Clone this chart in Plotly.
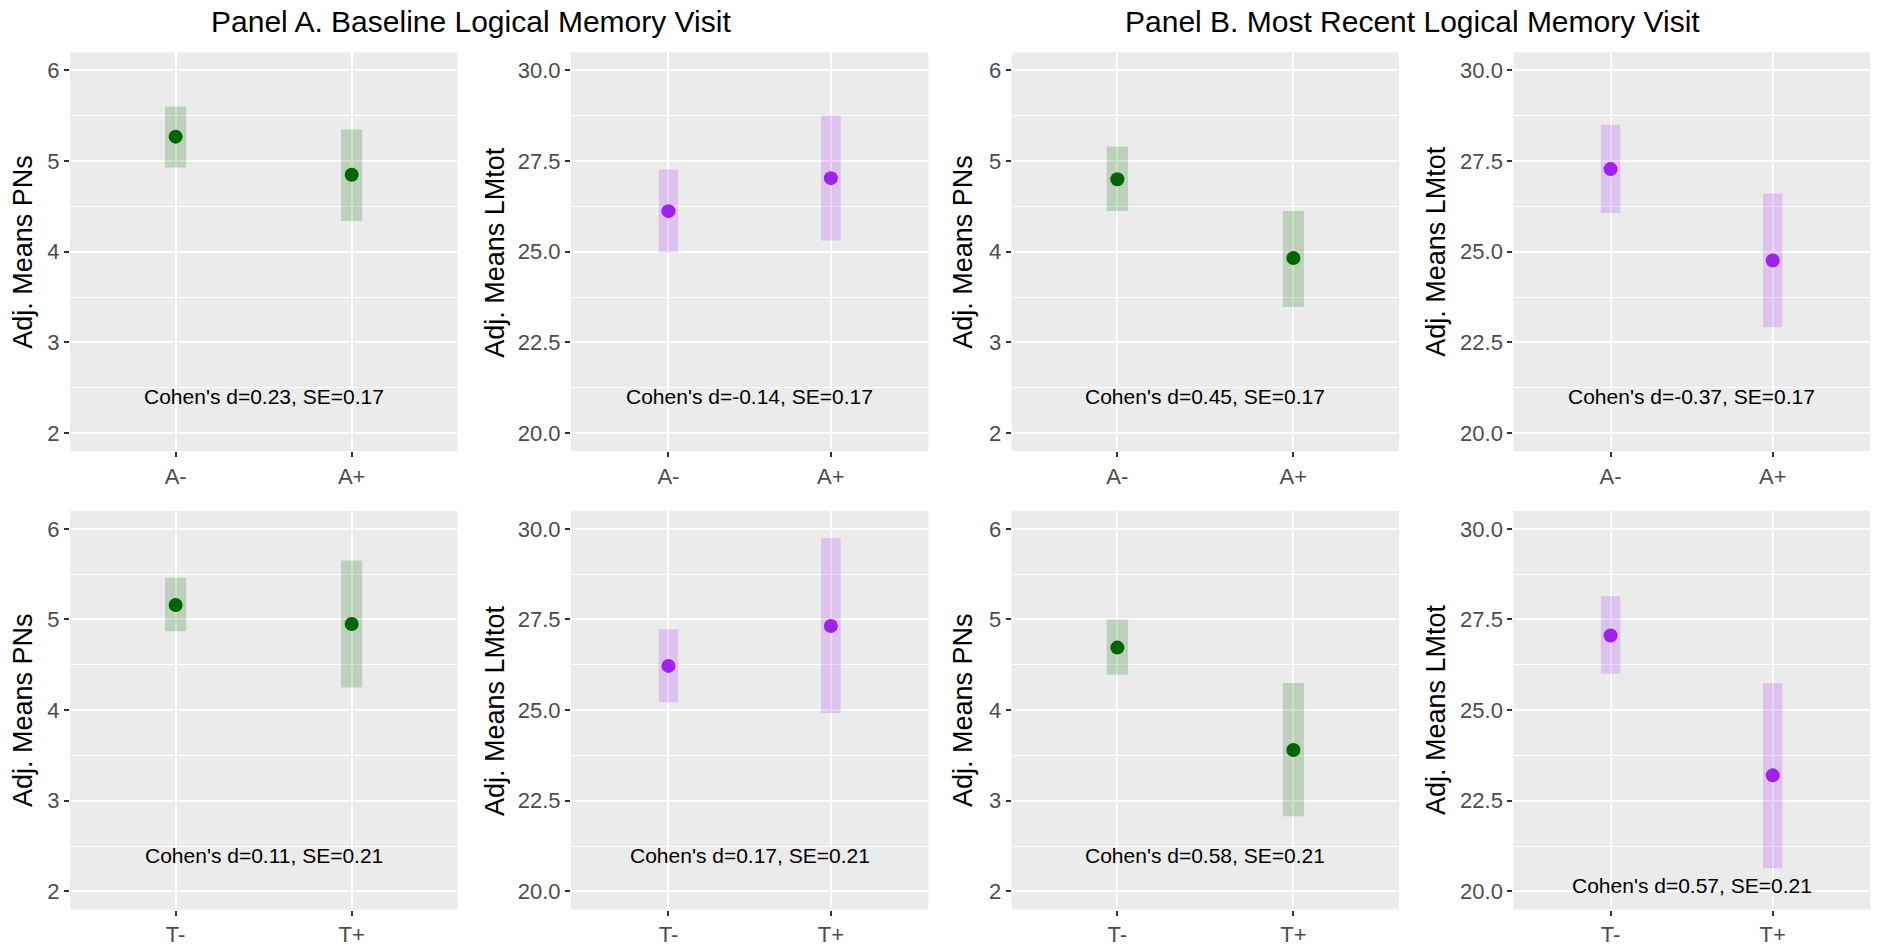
import plotly.graph_objects as go

# ---------------- data ----------------
cats_A = ["A-", "A+"]
cats_T = ["T-", "T+"]

# Panel A (baseline) – amyloid groups
pn_A_base_mean = [5.27, 4.85]
pn_A_base_low = [4.93, 4.34]
pn_A_base_high = [5.60, 5.35]
lm_A_base_mean = [26.12, 27.03]
lm_A_base_low = [24.98, 25.31]
lm_A_base_high = [27.27, 28.76]

# Panel B (most recent) – amyloid groups
pn_A_rec_mean = [4.80, 3.93]
pn_A_rec_low = [4.45, 3.39]
pn_A_rec_high = [5.16, 4.45]
lm_A_rec_mean = [27.28, 24.76]
lm_A_rec_low = [26.07, 22.92]
lm_A_rec_high = [28.50, 26.61]

# Panel A (baseline) – tau groups
pn_T_base_mean = [5.16, 4.95]
pn_T_base_low = [4.87, 4.25]
pn_T_base_high = [5.46, 5.65]
lm_T_base_mean = [26.22, 27.32]
lm_T_base_low = [25.22, 24.92]
lm_T_base_high = [27.23, 29.74]

# Panel B (most recent) – tau groups
pn_T_rec_mean = [4.69, 3.56]
pn_T_rec_low = [4.39, 2.83]
pn_T_rec_high = [5.00, 4.30]
lm_T_rec_mean = [27.06, 23.20]
lm_T_rec_low = [26.00, 20.64]
lm_T_rec_high = [28.14, 25.74]

effect_labels = [
    "Cohen's d=0.23, SE=0.17", "Cohen's d=-0.14, SE=0.17",
    "Cohen's d=0.45, SE=0.17", "Cohen's d=-0.37, SE=0.17",
    "Cohen's d=0.11, SE=0.21", "Cohen's d=0.17, SE=0.21",
    "Cohen's d=0.58, SE=0.21", "Cohen's d=0.57, SE=0.21",
]
effect_label_y = [2.4, 21.0, 2.4, 21.0, 2.4, 21.0, 2.4, 20.16]

pn_ticks = [2, 3, 4, 5, 6]
pn_minor = [2.5, 3.5, 4.5, 5.5]
lm_ticks = [20.0, 22.5, 25.0, 27.5, 30.0]
lm_minor = [21.25, 23.75, 26.25, 28.75]

titles = ["Panel A. Baseline Logical Memory Visit", "Panel B. Most Recent Logical Memory Visit"]
ytitle_pn = "Adj. Means PNs"
ytitle_lm = "Adj. Means LMtot"

# ---------------- layout geometry ----------------
W, H = 1883, 947
col_px = [(70, 457.3), (571, 928.3), (1011.7, 1399), (1513.3, 1870)]
row_px = [(52.7, 454), (514, 915.3)]
ytitle_x_px = [23, 495, 963, 1436]

GREEN = "#006400"
GREEN_FILL = "rgba(0,100,0,0.2)"
PURPLE = "#A020F0"
PURPLE_FILL = "rgba(160,32,240,0.2)"
FONT = "Liberation Sans, Arial, Helvetica, sans-serif"

panels = [
    (cats_A, pn_A_base_mean, pn_A_base_low, pn_A_base_high, "pn"),
    (cats_A, lm_A_base_mean, lm_A_base_low, lm_A_base_high, "lm"),
    (cats_A, pn_A_rec_mean, pn_A_rec_low, pn_A_rec_high, "pn"),
    (cats_A, lm_A_rec_mean, lm_A_rec_low, lm_A_rec_high, "lm"),
    (cats_T, pn_T_base_mean, pn_T_base_low, pn_T_base_high, "pn"),
    (cats_T, lm_T_base_mean, lm_T_base_low, lm_T_base_high, "lm"),
    (cats_T, pn_T_rec_mean, pn_T_rec_low, pn_T_rec_high, "pn"),
    (cats_T, lm_T_rec_mean, lm_T_rec_low, lm_T_rec_high, "lm"),
]

fig = go.Figure()
layout = {}
annotations = []

for i, (cats, mean, low, high, kind) in enumerate(panels):
    n = i + 1
    r, c = divmod(i, 4)
    xs = "x" if n == 1 else f"x{n}"
    ys = "y" if n == 1 else f"y{n}"
    color = GREEN if kind == "pn" else PURPLE
    fill = GREEN_FILL if kind == "pn" else PURPLE_FILL

    fig.add_trace(go.Bar(
        x=cats, y=[h - l for h, l in zip(high, low)], base=low, width=0.12,
        marker=dict(color=fill, line=dict(width=0)),
        xaxis=xs, yaxis=ys, showlegend=False, hoverinfo="skip",
    ))
    fig.add_trace(go.Scatter(
        x=cats, y=mean, mode="markers",
        marker=dict(color=color, size=14, line=dict(width=0)),
        xaxis=xs, yaxis=ys, showlegend=False,
    ))

    x0, x1 = col_px[c]
    y0, y1 = row_px[r]
    if kind == "pn":
        yr = [1.8, 6.2]
        tv, mv, fmt = pn_ticks, pn_minor, "d"
        ytitle = ytitle_pn
    else:
        yr = [19.5, 30.5]
        tv, mv, fmt = lm_ticks, lm_minor, ".1f"
        ytitle = ytitle_lm

    xkey = "xaxis" if n == 1 else f"xaxis{n}"
    ykey = "yaxis" if n == 1 else f"yaxis{n}"
    layout[xkey] = dict(
        domain=[x0 / W, x1 / W], anchor=ys, type="category",
        categoryorder="array", categoryarray=cats, range=[-0.6, 1.6],
        showgrid=True, gridcolor="white", gridwidth=2, zeroline=False,
        showline=False, ticks="outside", ticklen=5, tickwidth=1.5,
        tickcolor="#333333", tickfont=dict(family=FONT, size=22, color="#4D4D4D"),
        fixedrange=True,
    )
    layout[ykey] = dict(
        domain=[1 - y1 / H, 1 - y0 / H], anchor=xs, range=yr,
        tickmode="array", tickvals=tv, tickformat=fmt,
        showgrid=True, gridcolor="white", gridwidth=2, zeroline=False,
        showline=False, ticks="outside", ticklen=5, tickwidth=1.5,
        tickcolor="#333333", tickfont=dict(family=FONT, size=22, color="#4D4D4D"),
        minor=dict(tickmode="array", tickvals=mv, showgrid=True,
                   gridcolor="white", gridwidth=1, ticks=""),
        fixedrange=True,
    )

    # effect size label
    annotations.append(dict(
        x=0.5, y=effect_label_y[i], xref=xs, yref=ys, text=effect_labels[i],
        showarrow=False, xanchor="center", yanchor="middle",
        font=dict(family=FONT, size=21, color="black"),
    ))
    # y axis title
    annotations.append(dict(
        x=ytitle_x_px[c] / W, y=1 - (y0 + y1) / 2 / H, xref="paper", yref="paper",
        text=ytitle, textangle=-90, showarrow=False, xanchor="center", yanchor="middle",
        font=dict(family=FONT, size=27, color="black"),
    ))

# panel titles
title_centers = [471, 1412.5]
for t, cx in zip(titles, title_centers):
    annotations.append(dict(
        x=cx / W, y=1 - 21.5 / H, xref="paper", yref="paper", text=t, showarrow=False,
        xanchor="center", yanchor="middle", font=dict(family=FONT, size=30, color="black"),
    ))

fig.update_layout(
    width=W, height=H, margin=dict(l=0, r=0, t=0, b=0),
    paper_bgcolor="white", plot_bgcolor="#EBEBEB",
    barmode="overlay", showlegend=False,
    annotations=annotations, font=dict(family=FONT),
    **layout,
)

fig.write_html("out.html", config={"displayModeBar": False})
